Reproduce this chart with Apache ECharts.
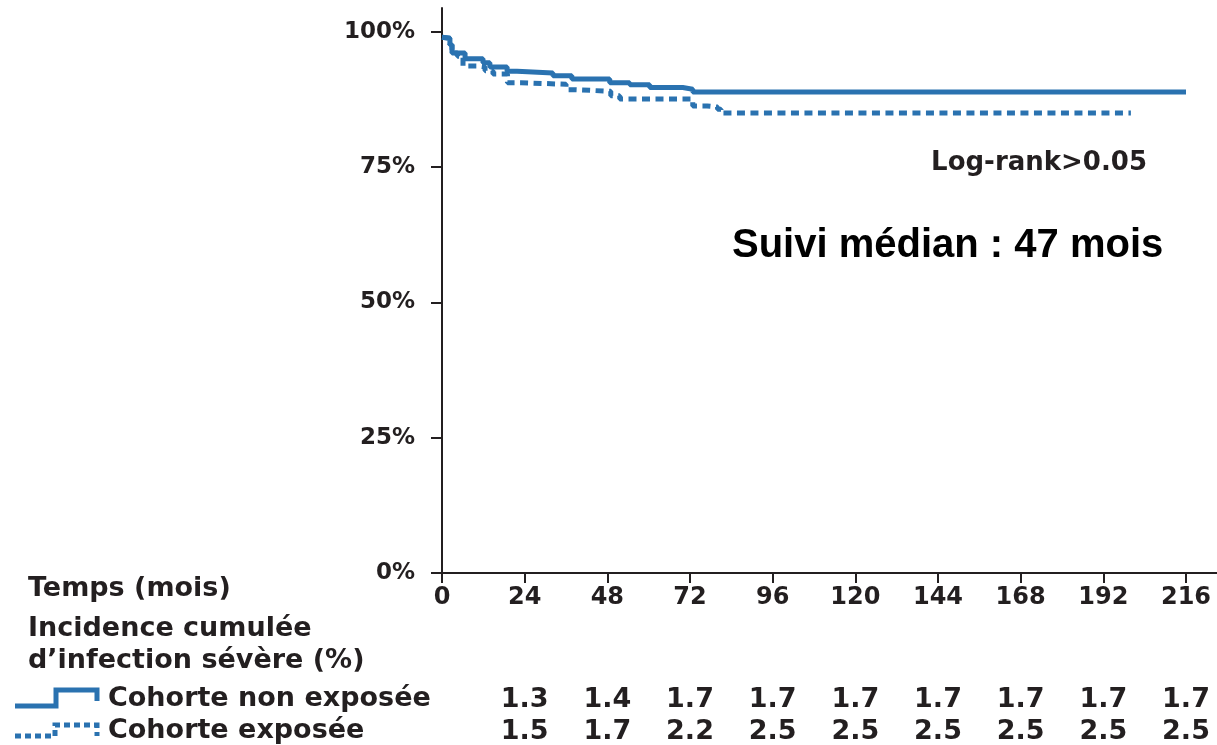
<!DOCTYPE html>
<html>
<head>
<meta charset="utf-8">
<script src="https://cdn.jsdelivr.net/npm/echarts@6/dist/echarts.min.js"></script>
<style>
html, body { margin: 0; padding: 0; background: #fff; }
#chart { width: 1217px; height: 745px; }
</style>
</head>
<body>
<div id="chart"></div>
<script>
// axes
var monthTicks = [0, 24, 48, 72, 96, 120, 144, 168, 192, 216];
var pctTicks = [0, 25, 50, 75, 100];

// courbe cohorte non exposée (mois, %)
var nonExpTimes = [0, 0.3, 2.3, 2.9, 6.7, 11.9, 13.9, 18.9, 21.8, 32.2, 37.7, 48.7, 54.5, 60.3, 69.9, 72.8, 216];
var nonExpSurv  = [99.0, 98.8, 97.6, 96.1, 95.0, 94.3, 93.5, 92.7, 92.4, 91.9, 91.3, 90.6, 90.2, 89.7, 89.4, 88.9, 88.9];

// courbe cohorte exposée (mois, %)
var expTimes = [0, 0.3, 2.3, 2.9, 4.5, 6.1, 10.2, 12.5, 14.8, 19, 23, 36, 39, 49, 51.6, 72.8, 77, 80, 81, 200];
var expSurv  = [99.0, 98.8, 97.6, 96.1, 95.5, 93.7, 93.5, 92.8, 92.2, 90.6, 90.3, 89.3, 89.0, 88.2, 87.6, 86.3, 86.1, 85.7, 85.0, 85.0];

// incidence cumulée d'infection sévère (%)
var incMonths = [24, 48, 72, 96, 120, 144, 168, 192, 216];
var incNonExp = ['1.3', '1.4', '1.7', '1.7', '1.7', '1.7', '1.7', '1.7', '1.7'];
var incExp    = ['1.5', '1.7', '2.2', '2.5', '2.5', '2.5', '2.5', '2.5', '2.5'];

var ink = '#231f20';
var blue = '#2a72b0';
var font = 'DejaVu Sans';

function pairs(xs, ys) {
    return xs.map(function (x, i) { return [x, ys[i]]; });
}

// ligne de valeurs sous l'axe (tableau)
function rowAxis(values, offset) {
    return {
        type: 'value', gridIndex: 0, position: 'bottom', offset: offset,
        min: 0, max: 225,
        axisLine: { show: false }, axisTick: { show: false }, splitLine: { show: false },
        axisLabel: {
            customValues: incMonths, margin: 0,
            color: ink, fontFamily: font, fontWeight: 'bold', fontSize: 27,
            formatter: function (v) { return values[incMonths.indexOf(v)]; }
        }
    };
}

var chart = echarts.init(document.getElementById('chart'));

var option = {
    animation: false,
    backgroundColor: '#fff',
    grid: { left: 442, right: 0, top: 8, bottom: 172, containLabel: false },
    xAxis: [
        {
            type: 'value', min: 0, max: 225,
            axisLine: { lineStyle: { color: ink, width: 2 } },
            axisTick: { customValues: monthTicks, length: 10, lineStyle: { color: ink, width: 2 } },
            splitLine: { show: false },
            axisLabel: {
                customValues: monthTicks, margin: 13,
                color: ink, fontFamily: font, fontWeight: 'bold', fontSize: 24
            }
        },
        rowAxis(incNonExp, 113),
        rowAxis(incExp, 145)
    ],
    yAxis: {
        type: 'value', min: 0, max: 104.4,
        axisLine: { show: true, lineStyle: { color: ink, width: 2 } },
        axisTick: { show: true, customValues: pctTicks, length: 11, lineStyle: { color: ink, width: 2 } },
        splitLine: { show: false },
        axisLabel: {
            customValues: pctTicks, margin: 27,
            color: ink, fontFamily: font, fontWeight: 'bold', fontSize: 23,
            formatter: '{value}%'
        }
    },
    series: [
        {
            name: 'Cohorte non exposée',
            type: 'line', step: 'end', symbol: 'none',
            lineStyle: { color: blue, width: 5 },
            data: pairs(nonExpTimes, nonExpSurv)
        },
        {
            name: 'Cohorte exposée',
            type: 'line', step: 'end', symbol: 'none',
            lineStyle: { color: blue, width: 5, type: [8, 5.5] },
            data: pairs(expTimes, expSurv)
        }
    ],
    graphic: [
        { type: 'text', style: { x: 1147, y: 163, text: 'Log-rank>0.05', textAlign: 'right', textVerticalAlign: 'middle', fill: ink, font: 'bold 26px "DejaVu Sans"' } },
        { type: 'text', style: { x: 732, y: 246, text: 'Suivi médian : 47 mois', textVerticalAlign: 'middle', fill: '#000', font: 'bold 40px "Liberation Sans"' } },
        { type: 'text', style: { x: 28, y: 589, text: 'Temps (mois)', textVerticalAlign: 'middle', fill: ink, font: 'bold 27px "DejaVu Sans"' } },
        { type: 'text', style: { x: 28, y: 629, text: 'Incidence cumulée', textVerticalAlign: 'middle', fill: ink, font: 'bold 27px "DejaVu Sans"' } },
        { type: 'text', style: { x: 28, y: 661, text: 'd’infection sévère (%)', textVerticalAlign: 'middle', fill: ink, font: 'bold 27px "DejaVu Sans"' } },
        { type: 'text', style: { x: 108, y: 699, text: 'Cohorte non exposée', textVerticalAlign: 'middle', fill: ink, font: 'bold 27px "DejaVu Sans"' } },
        { type: 'text', style: { x: 108, y: 731, text: 'Cohorte exposée', textVerticalAlign: 'middle', fill: ink, font: 'bold 27px "DejaVu Sans"' } },
        // icônes de légende
        { type: 'polyline', shape: { points: [[15, 706], [56, 706], [56, 690], [97, 690], [97, 701]] }, style: { stroke: blue, lineWidth: 5, fill: null } },
        { type: 'polyline', shape: { points: [[15, 736], [55, 736], [55, 725], [97, 725], [97, 736]] }, style: { stroke: blue, lineWidth: 5, fill: null, lineDash: [6, 4] } }
    ]
};

chart.setOption(option);
</script>
</body>
</html>
